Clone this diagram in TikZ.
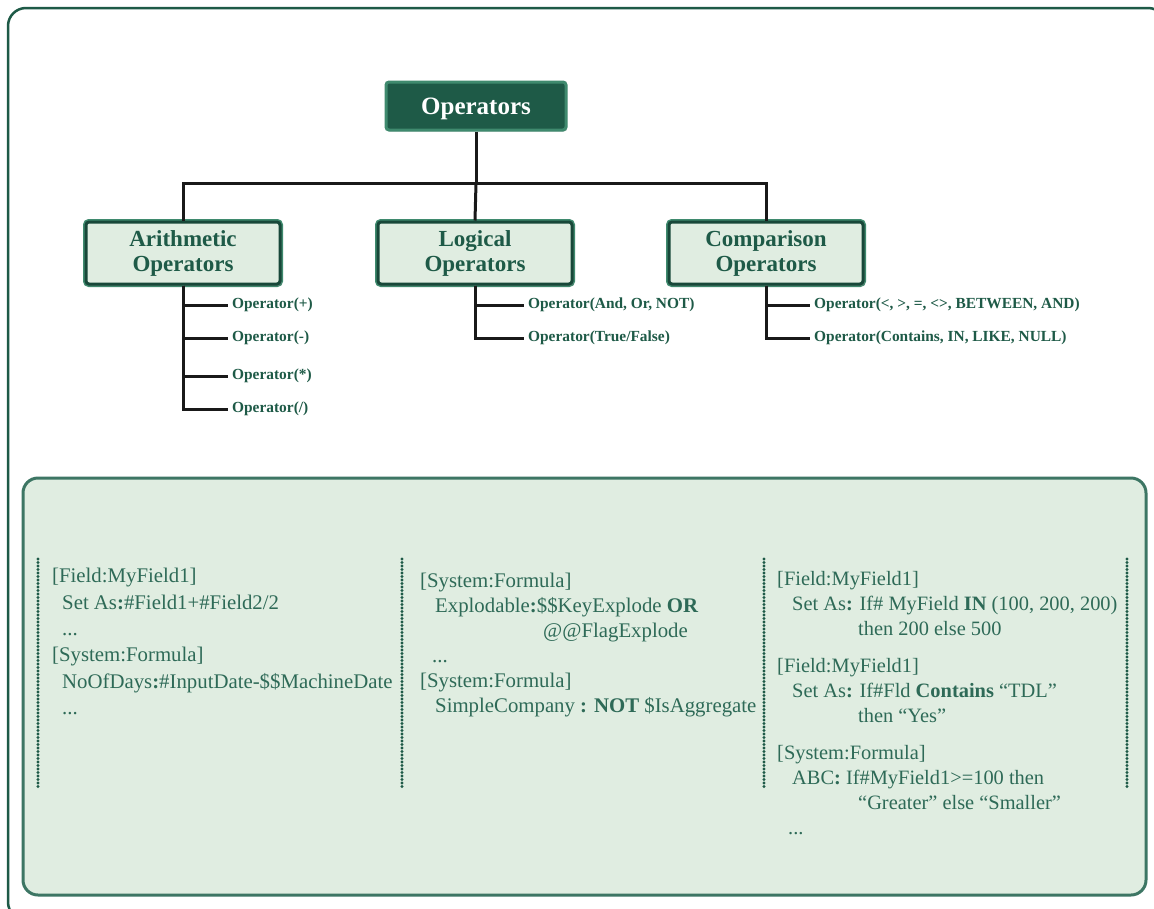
\documentclass[tikz,border=0pt]{standalone}
\usepackage{fontspec}
\setmainfont{Liberation Serif}
\usetikzlibrary{positioning,shadows}
\definecolor{deepgreen}{HTML}{1E5A47}
\definecolor{rimgreen}{HTML}{3F8A6E}
\definecolor{palegreen}{HTML}{E0EDE1}
\definecolor{panelline}{HTML}{3D7664}
\definecolor{codegreen}{HTML}{2E6A57}

\begin{document}
\begin{tikzpicture}[x=1pt,y=-1pt,
  topbox/.style={draw=rimgreen,line width=3pt,fill=deepgreen,rounded corners=3pt,minimum width=180pt,minimum height=48pt,text depth=0pt,text=white,font=\bfseries\fontsize{25}{28}\selectfont,drop shadow={shadow xshift=1pt,shadow yshift=-1.5pt,opacity=0.35}},
  catbox/.style={preaction={draw=rimgreen,line width=6pt},draw=deepgreen!80!black,line width=3pt,fill=palegreen,rounded corners=3pt,minimum width=194pt,minimum height=62pt,align=center,text=deepgreen,font=\bfseries\fontsize{23}{25}\selectfont,drop shadow={shadow xshift=1.5pt,shadow yshift=-2pt,opacity=0.3}},
  leaf/.style={anchor=west,inner xsep=4pt,inner ysep=1pt,text=deepgreen,font=\bfseries\fontsize{15.4}{18}\selectfont},
  link/.style={line width=3pt,black!90},
  frame/.style={draw=deepgreen,line width=2.5pt,rounded corners=18pt,fill=white},
  panel/.style={draw=panelline,line width=3pt,fill=palegreen,rounded corners=15pt},
  dotrule/.style={draw=deepgreen,line width=3.2pt,line cap=round,dash pattern=on 0pt off 3.5pt},
  codeblock/.style={anchor=north west,inner sep=0pt,align=left,text=codegreen}]
  \useasboundingbox (0,0) rectangle (1154,908);
  \draw[frame] (8,8) rectangle (1166,920);
  \draw[panel] (23,478) rectangle (1146,895);

  \node[topbox] (ops) at (476,106) {Operators};
  \node[catbox] (arith) at (183,253) {Arithmetic\\Operators};
  \node[catbox] (logic) at (475,253) {Logical\\Operators};
  \node[catbox] (comp) at (766,253) {Comparison\\Operators};
  \path (ops.south) ++(0,52) coordinate (hub);
  \draw[link] (ops.south) -- (hub);
  \draw[link] (arith.north) |- (hub) -| (comp.north);
  \draw[link] (hub) -- (logic.north);

  \node[leaf] (plus) at (228,305) {Operator(+)};
  \node[leaf] (minus) at (228,338) {Operator(-)};
  \node[leaf] (times) at (228,376) {Operator(*)};
  \node[leaf] (divide) at (228,409) {Operator(/)};
  \node[leaf] (andor) at (524,305) {Operator(And, Or, NOT)};
  \node[leaf] (truefalse) at (524,338) {Operator(True/False)};
  \node[leaf] (compare) at (810,305) {Operator(<, >, =, <>, BETWEEN, AND)};
  \node[leaf] (contains) at (810,338) {Operator(Contains, IN, LIKE, NULL)};
  \foreach \leafname in {plus,minus,times,divide}
    \draw[link] (arith.south) |- (\leafname.west);
  \foreach \leafname in {andor,truefalse}
    \draw[link] (logic.south) |- (\leafname.west);
  \foreach \leafname in {compare,contains}
    \draw[link] (comp.south) |- (\leafname.west);

  \foreach \xpos in {38,402,764,1127}
    \draw[dotrule] (\xpos,559) -- (\xpos,788);
  \node[codeblock,font=\fontsize{20.8}{26.4}\selectfont] (codeA) at (52,568) {{[Field:MyField1]}\\
    \hspace*{10pt}Set As\textbf{:}\#Field1+\#Field2/2\\
    \hspace*{10pt}...\\
    {[System:Formula]}\\
    \hspace*{10pt}NoOfDays\textbf{:}\#InputDate-\$\$MachineDate\\
    \hspace*{10pt}...};
  \node[codeblock,font=\fontsize{20.8}{25}\selectfont] (codeB) at (420,573) {{[System:Formula]}\\
    \hspace*{15pt}Explodable\textbf{:}\$\$KeyExplode \textbf{OR}\\
    \hspace*{123pt}@@FlagExplode\\
    \hspace*{12pt}...\\
    {[System:Formula]}\\
    \hspace*{15pt}SimpleCompany \textbf{: NOT} \$IsAggregate};
  \node[codeblock,font=\fontsize{20.4}{25}\selectfont] (codeC) at (777,571) {{[Field:MyField1]}\\
    \hspace*{15pt}Set As\textbf{:} If\# MyField \textbf{IN} (100, 200, 200)\\
    \hspace*{81pt}then 200 else 500\\[12pt]
    {[Field:MyField1]}\\
    \hspace*{15pt}Set As\textbf{:} If\#Fld \textbf{Contains} “TDL”\\
    \hspace*{81pt}then “Yes”\\[12pt]
    {[System:Formula]}\\
    \hspace*{15pt}ABC\textbf{:} If\#MyField1>=100 then\\
    \hspace*{81pt}“Greater” else “Smaller”\\
    \hspace*{11pt}...};
\end{tikzpicture}
\end{document}
